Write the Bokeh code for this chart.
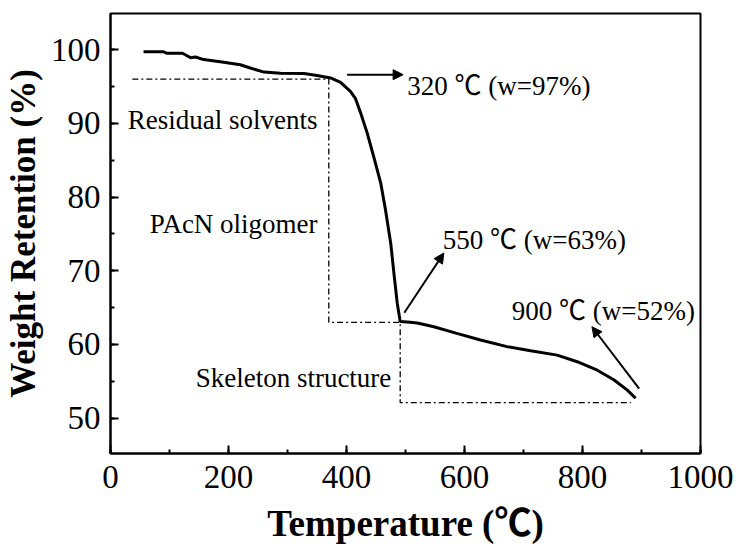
from bokeh.plotting import figure
from bokeh.models import Range1d, SingleIntervalTicker, Arrow, NormalHead, ColumnDataSource
from bokeh.core.properties import value
from bokeh.embed import file_html
from bokeh.resources import INLINE

# TGA curve
temperature = [56, 90, 96, 122, 136, 144, 158, 192, 220, 237, 260, 288, 328, 350, 373,
               390, 407, 415, 424, 435, 446, 458, 466, 475, 481, 486, 491,
               508, 520, 548, 587, 627, 672, 712, 757, 791, 825, 853, 876, 890]
weight = [99.7, 99.7, 99.5, 99.5, 98.9, 99.0, 98.65, 98.3, 97.95, 97.5, 96.95, 96.8, 96.75, 96.5, 96.15,
          95.55, 94.3, 93.4, 91.4, 88.7, 85.5, 81.9, 78.3, 73.7, 69.2, 65.6, 63.1,
          63.0, 62.9, 62.4, 61.5, 60.6, 59.7, 59.15, 58.55, 57.65, 56.5, 55.2, 53.8, 52.7]

# dash-dot stage guide (step line)
guide_temp = [37, 370, 370, 491, 491, 882]
guide_weight = [96.0, 96.0, 63.0, 63.0, 52.1, 52.1]

# annotation arrows
arrow_t0 = [401, 498, 896]
arrow_w0 = [96.6, 64.3, 54.0]
arrow_t1 = [496, 565, 816]
arrow_w1 = [96.6, 72.4, 62.4]

# annotation texts
left_texts = ["320 \u2103  (w=97%)", "550 \u2103 (w=63%)", "900 \u2103 (w=52%)"]
left_t = [503, 563, 680]
left_w = [95.0, 74.2, 64.5]
right_texts = ["Residual solvents", "PAcN oligomer", "Skeleton structure"]
right_t = [351, 351, 476]
right_w = [90.5, 76.4, 55.45]

x_ticks_interval = 200
y_ticks_interval = 10

SERIF = "Liberation Serif, Noto Sans CJK SC"

p = figure(width=736, height=547, x_range=Range1d(0, 1000), y_range=Range1d(45.2, 104.9),
           output_backend="svg", toolbar_location=None,
           min_border_left=110, min_border_right=36, min_border_top=13, min_border_bottom=94)
p.background_fill_color = "white"
p.border_fill_color = "white"
p.xgrid.visible = False
p.ygrid.visible = False
p.outline_line_color = "black"
p.outline_line_width = 2
p.outline_line_alpha = 1

p.xaxis.ticker = SingleIntervalTicker(interval=x_ticks_interval, num_minor_ticks=2)
p.yaxis.ticker = SingleIntervalTicker(interval=y_ticks_interval, num_minor_ticks=2)
for ax in (p.xaxis, p.yaxis):
    ax.major_tick_in = 8
    ax.major_tick_out = 0
    ax.minor_tick_in = 4
    ax.minor_tick_out = 0
    ax.axis_line_width = 2
    ax.axis_line_color = "black"
    ax.major_tick_line_width = 2
    ax.minor_tick_line_width = 2
    ax.major_tick_line_color = "black"
    ax.minor_tick_line_color = "black"
    ax.major_label_text_font = "Liberation Serif"
    ax.major_label_text_font_size = "33px"
    ax.major_label_text_color = "black"
    ax.axis_label_text_font = SERIF
    ax.axis_label_text_font_style = "bold"
    ax.axis_label_text_color = "black"
p.xaxis.axis_label = "Temperature (\u2103)"
p.yaxis.axis_label = "Weight Retention (%)"
p.xaxis.axis_label_text_font_size = "37px"
p.yaxis.axis_label_text_font_size = "35px"
p.xaxis.major_label_standoff = 12
p.yaxis.major_label_standoff = 10
p.xaxis.axis_label_standoff = 12
p.yaxis.axis_label_standoff = 5

p.line(guide_temp, guide_weight, line_color="black", line_width=1.3, line_dash="6 3 2 3")
p.line(temperature, weight, line_color="black", line_width=3)

asrc = ColumnDataSource(dict(x0=arrow_t0, y0=arrow_w0, x1=arrow_t1, y1=arrow_w1))
p.add_layout(Arrow(source=asrc, x_start="x0", y_start="y0", x_end="x1", y_end="y1",
                   line_color="black", line_width=2,
                   end=NormalHead(size=10, fill_color="black", line_color="black")))

p.text(left_t, left_w, text=left_texts, text_font=value(SERIF),
       text_font_size="27px", text_align="left", text_baseline="alphabetic", text_color="black")
p.text(right_t, right_w, text=right_texts, text_font=value(SERIF),
       text_font_size="27px", text_align="right", text_baseline="alphabetic", text_color="black")

open("out.html", "w").write(file_html(p, INLINE))
